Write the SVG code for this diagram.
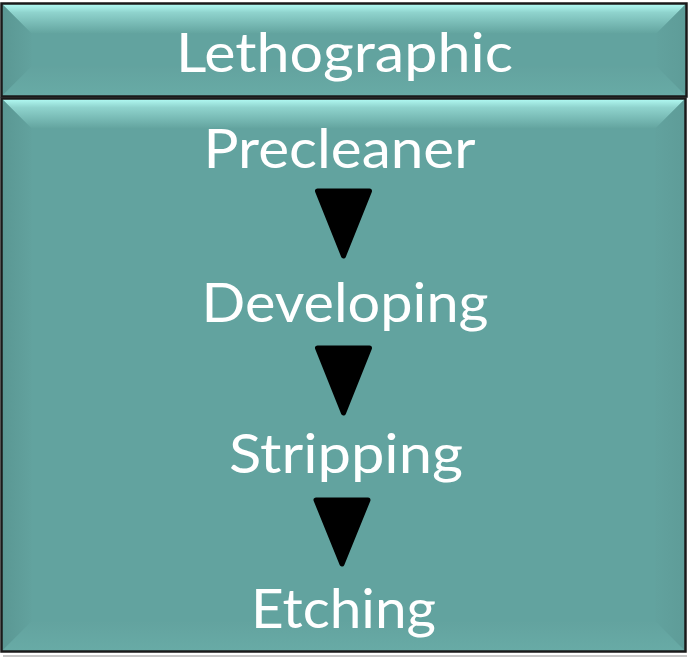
<svg xmlns="http://www.w3.org/2000/svg" width="692" height="657" viewBox="0 0 692 657">
<defs>
<linearGradient id="gTop" x1="0" y1="0" x2="0" y2="1">
<stop offset="0" stop-color="#b4fdf6"/>
<stop offset="0.3" stop-color="#8fd3cd"/>
<stop offset="1" stop-color="#63a49f"/>
</linearGradient>
<linearGradient id="gLeft" x1="0" y1="0" x2="1" y2="0">
<stop offset="0" stop-color="#5a9793"/>
<stop offset="1" stop-color="#62a29e"/>
</linearGradient>
<linearGradient id="gRight" x1="1" y1="0" x2="0" y2="0">
<stop offset="0" stop-color="#5e9c98"/>
<stop offset="1" stop-color="#62a29e"/>
</linearGradient>
<linearGradient id="gBot" x1="0" y1="1" x2="0" y2="0">
<stop offset="0" stop-color="#68aba6"/>
<stop offset="1" stop-color="#63a39f"/>
</linearGradient>
</defs>
<style>
.base{fill:#62a39f}
.frame{fill:none;stroke:#1a1a1a;stroke-width:2.5}
.lbl{font-family:Lato,"Open Sans",sans-serif;font-size:55px;font-weight:400;fill:#ffffff;text-anchor:middle}
.arrow{fill:#000;stroke:#000;stroke-width:5;stroke-linejoin:round}
</style>
<rect x="3" y="655" width="684" height="2" fill="#c8c8c8"/>
<g id="header">
<rect class="base" x="1.5" y="3.5" width="685" height="93"/>
<polygon points="1.5,3.5 686.5,3.5 656.5,33.5 31.5,33.5" fill="url(#gTop)"/>
<polygon points="1.5,3.5 31.5,33.5 31.5,66.5 1.5,96.5" fill="url(#gLeft)"/>
<polygon points="686.5,3.5 656.5,33.5 656.5,66.5 686.5,96.5" fill="url(#gRight)"/>
<polygon points="1.5,96.5 31.5,66.5 656.5,66.5 686.5,96.5" fill="url(#gBot)"/>
<rect class="frame" x="1.5" y="3.5" width="685" height="93"/>
<text class="lbl" x="344.5" y="72" textLength="337" lengthAdjust="spacingAndGlyphs">Lethographic</text>
</g>
<g id="process">
<rect class="base" x="1.5" y="98.5" width="684" height="553"/>
<polygon points="1.5,98.5 685.5,98.5 655.5,128.5 31.5,128.5" fill="url(#gTop)"/>
<polygon points="1.5,98.5 31.5,128.5 31.5,621.5 1.5,651.5" fill="url(#gLeft)"/>
<polygon points="685.5,98.5 655.5,128.5 655.5,621.5 685.5,651.5" fill="url(#gRight)"/>
<polygon points="1.5,651.5 31.5,621.5 655.5,621.5 685.5,651.5" fill="url(#gBot)"/>
<rect class="frame" x="1.5" y="98.5" width="684" height="553"/>
</g>
<g id="precleaner"><text class="lbl" x="339.5" y="168" textLength="272" lengthAdjust="spacingAndGlyphs">Precleaner</text></g>
<g id="developing"><text class="lbl" x="345" y="322" textLength="287" lengthAdjust="spacingAndGlyphs">Developing</text></g>
<g id="stripping"><text class="lbl" x="346" y="473" textLength="234" lengthAdjust="spacingAndGlyphs">Stripping</text></g>
<g id="etching"><text class="lbl" x="343.5" y="628" textLength="185" lengthAdjust="spacingAndGlyphs">Etching</text></g>
<g id="connectors">
<polygon class="arrow" points="317.5,191 369.5,191 343.5,256"/>
<polygon class="arrow" points="317.5,348 369.5,348 343.5,413"/>
<polygon class="arrow" points="316,500 368,500 342,564"/>
</g>
</svg>
